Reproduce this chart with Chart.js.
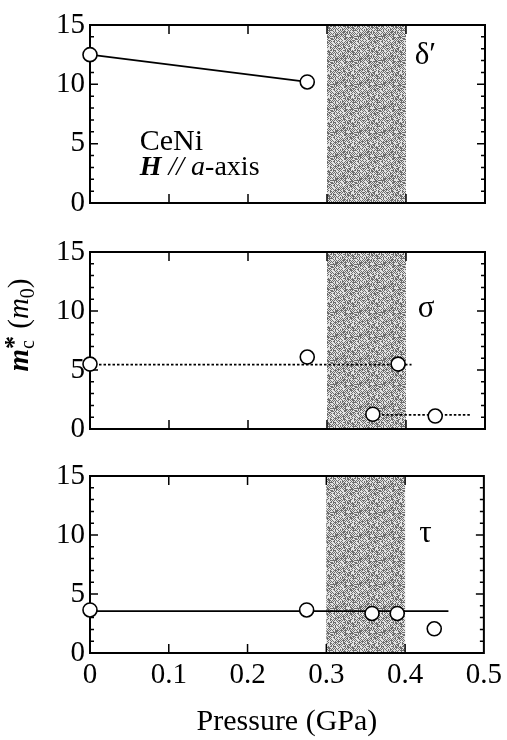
<!DOCTYPE html>
<html>
<head>
<meta charset="utf-8">
<script src="https://cdn.jsdelivr.net/npm/chart.js@4/dist/chart.umd.min.js"></script>
<style>
  html, body { margin: 0; padding: 0; background: #fff; }
  #fig { position: relative; width: 507px; height: 740px; }
  .panel { position: absolute; left: 0; width: 507px; }
</style>
</head>
<body>
<div id="fig">
  <div class="panel" style="top:0;height:228px"><canvas id="panelDelta"></canvas></div>
  <div class="panel" style="top:228px;height:224px"><canvas id="panelSigma"></canvas></div>
  <div class="panel" style="top:452px;height:288px"><canvas id="panelTau"></canvas></div>
</div>
<script>
// Axis ticks
const pressureTicks = [0, 0.1, 0.2, 0.3, 0.4, 0.5];
const pressureTickLabels = ['0', '0.1', '0.2', '0.3', '0.4', '0.5'];
const massTicks = [0, 5, 10, 15];
const massTickLabels = ['0', '5', '10', '15'];

// Pressure window shaded in every panel (GPa)
const shadedRange = [0.3, 0.4];

// delta' branch: cyclotron mass (m0) vs pressure (GPa)
const deltaPressure = [0, 0.275];
const deltaMass = [12.5, 10.2];

// sigma branch
const sigmaPressure = [0, 0.275, 0.39, 0.358, 0.437];
const sigmaMass = [5.5, 6.1, 5.5, 1.25, 1.1];
const sigmaUpperGuideP = [0, 0.407];
const sigmaUpperGuideM = [5.45, 5.45];
const sigmaLowerGuideP = [0.358, 0.483];
const sigmaLowerGuideM = [1.2, 1.2];

// tau branch
const tauPressure = [0, 0.275, 0.358, 0.39, 0.437];
const tauMass = [3.65, 3.65, 3.35, 3.35, 2.05];
const tauGuideP = [0, 0.455];
const tauGuideM = [3.55, 3.55];

const SERIF = '"Liberation Serif", "Times New Roman", serif';

function toXY(xs, ys) {
  return xs.map((x, i) => ({ x: x, y: ys[i] }));
}

// grey stipple texture for the shaded pressure window (fixed hash, no randomness)
function stipplePattern(ctx) {
  const n = 24;
  const c = document.createElement('canvas');
  c.width = n; c.height = n;
  const g = c.getContext('2d');
  for (let r = 0; r < n; r++) {
    for (let k = 0; k < n; k++) {
      const h = ((r * 73856093) ^ (k * 19349663) ^ ((r + k) * 83492791)) >>> 0;
      const checker = (r + k) % 2 === 0;
      const dark = checker ? (h % 10) < 7 : (h % 10) < 1;
      g.fillStyle = dark ? '#6e6e6e' : '#e2e2e2';
      g.fillRect(k, r, 1, 1);
    }
  }
  return ctx.createPattern(c, 'repeat');
}

function drawMassTitle(ctx, cx, cy) {
  const big = 29, small = 20;
  const parts = [
    { t: 'm', f: 'italic bold ' + big + 'px ' + SERIF, dy: 0 },
    { t: 'c', f: small + 'px ' + SERIF, dy: 6, sup: '*' },
    { t: ' (', f: big + 'px ' + SERIF, dy: 0 },
    { t: 'm', f: 'italic ' + big + 'px ' + SERIF, dy: 0 },
    { t: '0', f: small + 'px ' + SERIF, dy: 6 },
    { t: ')', f: big + 'px ' + SERIF, dy: 0 }
  ];
  let total = 0;
  parts.forEach(p => {
    ctx.font = p.f;
    p.w = ctx.measureText(p.t).width;
    if (p.sup) {
      ctx.font = 'bold ' + (small + 6) + 'px ' + SERIF;
      p.w = Math.max(p.w, ctx.measureText(p.sup).width);
    }
    total += p.w;
  });
  ctx.save();
  ctx.translate(cx, cy);
  ctx.rotate(-Math.PI / 2);
  ctx.fillStyle = '#000';
  ctx.textBaseline = 'alphabetic';
  let x = -total / 2;
  const base = 8;
  parts.forEach(p => {
    ctx.font = p.f;
    ctx.fillText(p.t, x, base + p.dy);
    if (p.sup) {
      ctx.font = 'bold ' + (small + 6) + 'px ' + SERIF;
      ctx.fillText(p.sup, x, base - 6);
    }
    x += p.w;
  });
  ctx.restore();
}

const panelDecor = {
  id: 'panelDecor',
  beforeDatasetsDraw(chart, args, opts) {
    const { ctx, chartArea: a, scales: { x, y } } = chart;
    ctx.save();
    // shaded window
    const x0 = x.getPixelForValue(shadedRange[0]);
    const x1 = x.getPixelForValue(shadedRange[1]);
    ctx.fillStyle = stipplePattern(ctx);
    ctx.fillRect(x0, a.top, x1 - x0, a.bottom - a.top);
    // frame
    ctx.strokeStyle = '#000';
    ctx.lineWidth = 2;
    ctx.strokeRect(a.left, a.top, a.right - a.left, a.bottom - a.top);
    // inward ticks on all four sides
    ctx.lineWidth = 1.5;
    ctx.beginPath();
    for (let v = 1; v < 15; v++) {
      const py = y.getPixelForValue(v);
      const len = massTicks.includes(v) ? 8 : 4;
      ctx.moveTo(a.left, py); ctx.lineTo(a.left + len, py);
      ctx.moveTo(a.right, py); ctx.lineTo(a.right - len, py);
    }
    pressureTicks.slice(1, -1).forEach(v => {
      const px = x.getPixelForValue(v);
      ctx.moveTo(px, a.bottom); ctx.lineTo(px, a.bottom - 9);
      ctx.moveTo(px, a.top); ctx.lineTo(px, a.top + 9);
    });
    ctx.stroke();
    ctx.restore();
  },
  afterDatasetsDraw(chart, args, opts) {
    const { ctx, scales: { x, y } } = chart;
    ctx.save();
    ctx.fillStyle = '#000';
    ctx.textBaseline = 'alphabetic';
    ctx.textAlign = 'left';
    if (opts.greek) {
      ctx.font = '31px ' + SERIF;
      ctx.fillText(opts.greek, x.getPixelForValue(opts.greekAt[0]), y.getPixelForValue(opts.greekAt[1]));
    }
    if (opts.note) {
      const nx = x.getPixelForValue(0.063);
      ctx.font = '30px ' + SERIF;
      ctx.fillText('CeNi', nx, y.getPixelForValue(4.45));
      const ly = y.getPixelForValue(2.35);
      let cx = nx;
      const segs = [
        ['H', 'italic bold 28px ' + SERIF],
        [' // ', 'italic 28px ' + SERIF],
        ['a', 'italic 28px ' + SERIF],
        ['-axis', '28px ' + SERIF]
      ];
      segs.forEach(([t, f]) => {
        ctx.font = f;
        ctx.fillText(t, cx, ly);
        cx += ctx.measureText(t).width;
      });
    }
    if (opts.massTitle) {
      drawMassTitle(ctx, 20, 97);
    }
    ctx.restore();
  }
};

function pointSet(xs, ys) {
  return {
    data: toXY(xs, ys),
    showLine: false,
    pointRadius: 7,
    pointBackgroundColor: '#fff',
    pointBorderColor: '#000',
    pointBorderWidth: 1.6,
    clip: false,
    order: 0
  };
}

function guideSet(xs, ys, dashed) {
  return {
    data: toXY(xs, ys),
    showLine: true,
    pointRadius: 0,
    borderColor: '#000',
    borderWidth: 1.8,
    borderDash: dashed ? [2.5, 2] : [],
    clip: false,
    order: 1
  };
}

function makePanel(id, datasets, cfg) {
  return new Chart(document.getElementById(id), {
    type: 'scatter',
    data: { datasets: datasets },
    options: {
      responsive: true,
      maintainAspectRatio: false,
      animation: false,
      events: [],
      layout: { padding: { top: cfg.top, bottom: cfg.bottom, left: 0, right: 22 } },
      plugins: {
        legend: { display: false },
        tooltip: { enabled: false },
        panelDecor: cfg.decor
      },
      scales: {
        x: {
          type: 'linear',
          min: 0, max: 0.5,
          display: cfg.showX,
          grid: { display: false, drawTicks: false },
          border: { display: false },
          afterBuildTicks: s => { s.ticks = pressureTicks.map(v => ({ value: v })); },
          ticks: {
            color: '#000',
            font: { family: SERIF, size: 29 },
            padding: 5,
            maxRotation: 0,
            autoSkip: false,
            callback: (v, i) => pressureTickLabels[i]
          },
          title: {
            display: cfg.showX,
            text: 'Pressure (GPa)',
            color: '#000',
            font: { family: SERIF, size: 30 },
            padding: { top: 0, bottom: 0 }
          },
          afterFit: s => { s.height = cfg.showX ? 87 : 0; }
        },
        y: {
          type: 'linear',
          min: 0, max: 15,
          grid: { display: false, drawTicks: false },
          border: { display: false },
          afterBuildTicks: s => { s.ticks = massTicks.map(v => ({ value: v })); },
          ticks: {
            color: '#000',
            font: { family: SERIF, size: 29 },
            padding: 5,
            autoSkip: false,
            callback: (v, i) => massTickLabels[i]
          },
          afterFit: s => { s.width = 90; }
        }
      }
    },
    plugins: [panelDecor]
  });
}

makePanel('panelDelta', [
  Object.assign(pointSet(deltaPressure, deltaMass), {
    showLine: true, borderColor: '#000', borderWidth: 1.8
  })
], { top: 25, bottom: 25, showX: false, decor: { greek: 'δ\u2032', greekAt: [0.411, 11.7], note: true } });

makePanel('panelSigma', [
  pointSet(sigmaPressure, sigmaMass),
  guideSet(sigmaUpperGuideP, sigmaUpperGuideM, true),
  guideSet(sigmaLowerGuideP, sigmaLowerGuideM, true)
], { top: 24, bottom: 23, showX: false, decor: { greek: 'σ', greekAt: [0.415, 9.5], massTitle: true } });

makePanel('panelTau', [
  pointSet(tauPressure, tauMass),
  guideSet(tauGuideP, tauGuideM, false)
], { top: 24, bottom: 0, showX: true, decor: { greek: 'τ', greekAt: [0.418, 9.4] } });
</script>
</body>
</html>
